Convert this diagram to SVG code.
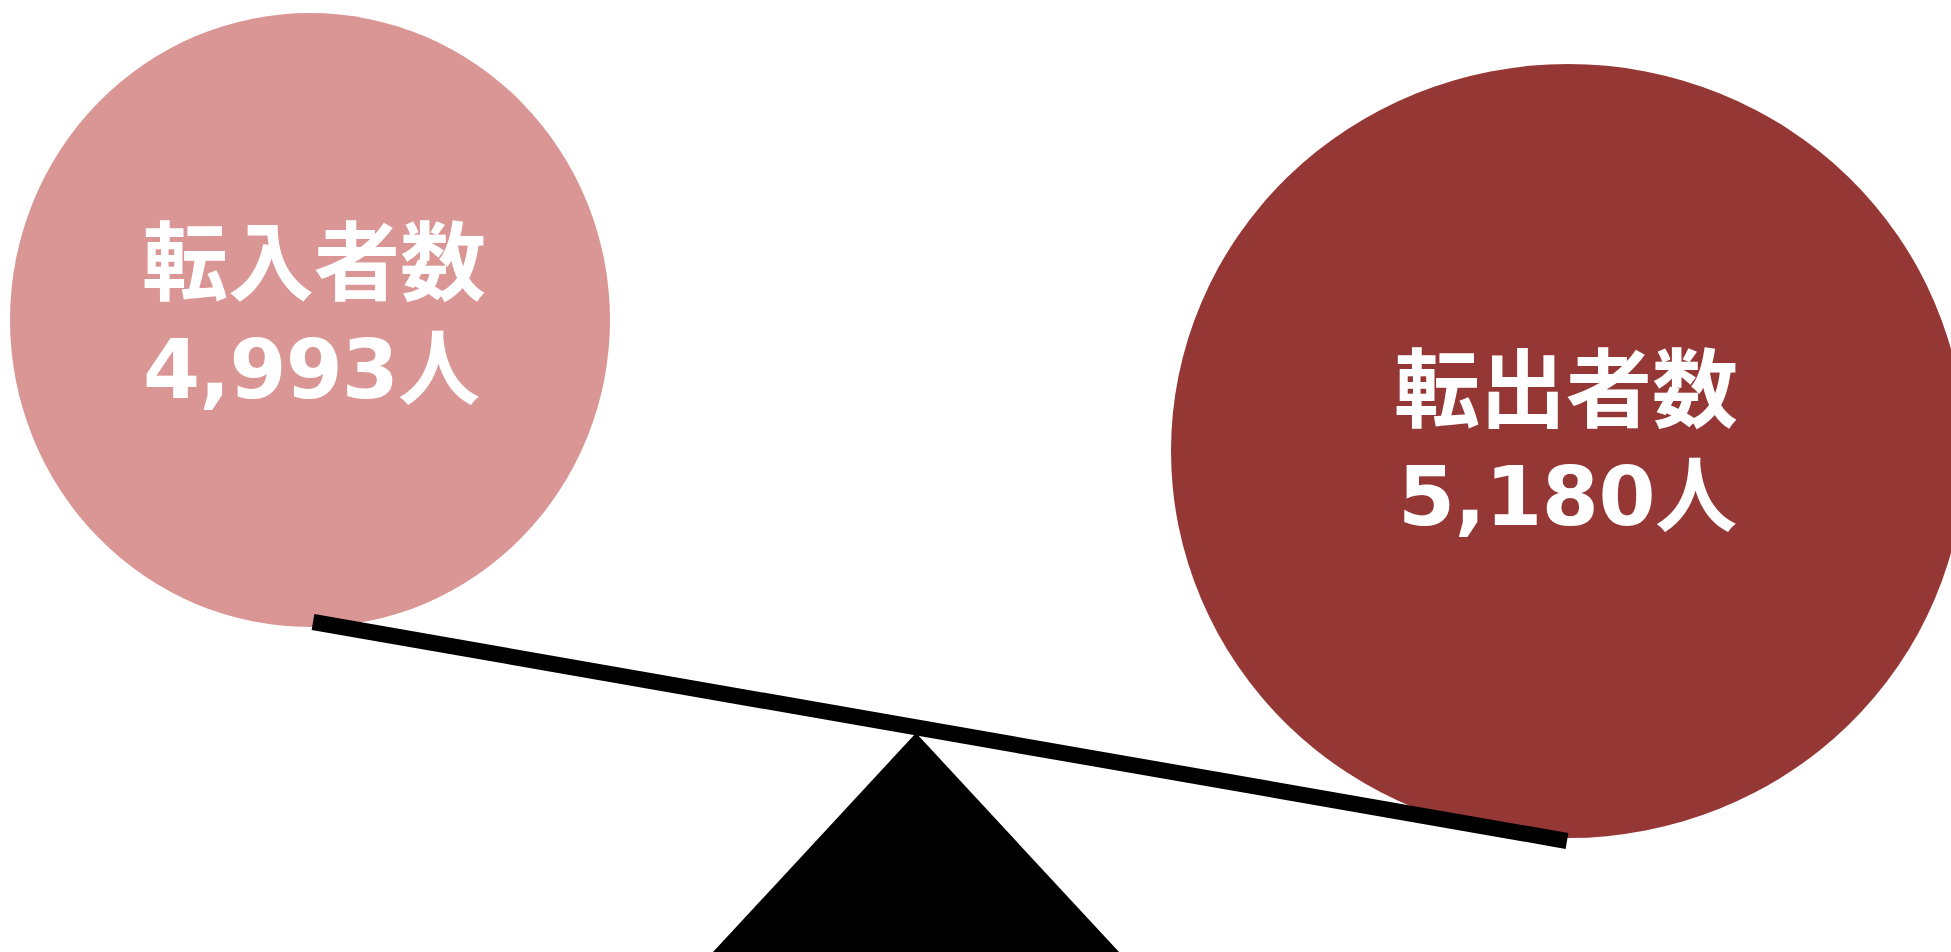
<svg xmlns="http://www.w3.org/2000/svg" width="1951" height="952" viewBox="0 0 1951 952">
<style>
.lbl{font-family:"Noto Sans CJK JP","Noto Sans CJK SC",sans-serif;font-weight:bold;font-size:86px;fill:#ffffff}
.num{font-family:"DejaVu Sans","Noto Sans CJK JP",sans-serif;font-weight:bold;font-size:82px;fill:#ffffff}
</style>
<rect x="0" y="0" width="1951" height="952" fill="#ffffff"/>
<g id="node-in">
<ellipse cx="310" cy="320" rx="300" ry="307" fill="#D99694"/>
<text class="lbl" x="142" y="294">転入者数</text>
<text class="num" x="143" y="398" textLength="337" lengthAdjust="spacing">4,993人</text>
</g>
<g id="node-out">
<ellipse cx="1568" cy="451" rx="397" ry="387" fill="#953735"/>
<text class="lbl" x="1394" y="421">転出者数</text>
<text class="num" x="1398" y="525" textLength="339" lengthAdjust="spacing">5,180人</text>
</g>
<g id="fulcrum">
<polygon points="916,733 1119,952 713,952" fill="#000000"/>
</g>
<g id="connectors">
<line x1="313" y1="622" x2="1567" y2="841" stroke="#000000" stroke-width="16" stroke-linecap="butt"/>
</g>
</svg>
